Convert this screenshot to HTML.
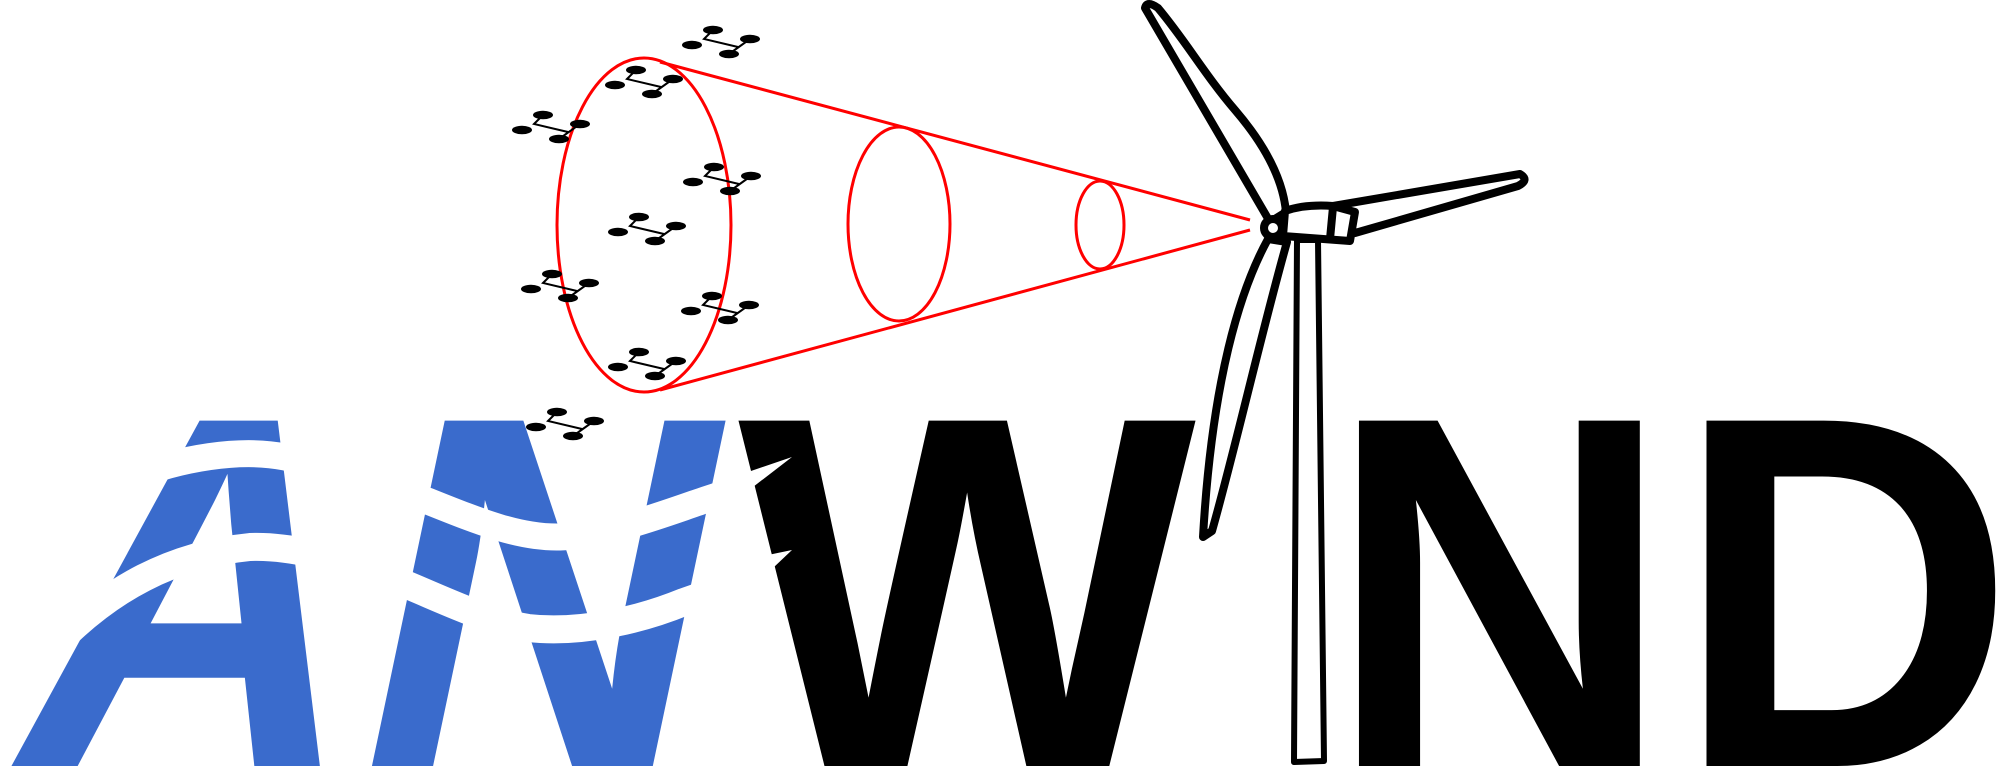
<!DOCTYPE html>
<html><head><meta charset="utf-8"><style>html,body{margin:0;padding:0;background:#fff;overflow:hidden}svg{display:block}</style></head>
<body>
<svg width="1999" height="766" viewBox="0 0 1999 766" xmlns="http://www.w3.org/2000/svg">
<defs>
<g id="dr">
<path d="M-8,-12 L-17,-3 L17,5 M29,-3 L8,12" stroke="#000" stroke-width="2" fill="none"/>
<ellipse cx="-8" cy="-12" rx="10" ry="4.3"/>
<ellipse cx="29" cy="-3" rx="10" ry="4.3"/>
<ellipse cx="-29" cy="3" rx="10" ry="4.3"/>
<ellipse cx="8" cy="12" rx="10" ry="4.3"/>
</g>
</defs>
<g transform="translate(0,766) skewX(-11.9)" fill="#3a6bcc" font-family="Liberation Sans, Arial, sans-serif" font-weight="bold" font-size="502">
<text x="0" y="0" textLength="332" lengthAdjust="spacingAndGlyphs">A</text>
<text x="340" y="0" textLength="345" lengthAdjust="spacingAndGlyphs">N</text>
</g>
<g fill="#000" font-family="Liberation Sans, Arial, sans-serif" font-weight="bold" font-size="502">
<text x="738" y="766" textLength="458" lengthAdjust="spacingAndGlyphs">W</text>
<text x="1327" y="766" textLength="345" lengthAdjust="spacingAndGlyphs">N</text>
<text x="1675" y="766" textLength="340" lengthAdjust="spacingAndGlyphs">D</text>
</g>
<g fill="none" stroke="#fff" stroke-linecap="butt">
<path d="M130,478 C180,458 240,448 285,457 C340,468 390,488 430,502 C480,522 520,538 560,537 C610,535 660,515 705,500 C718,496 728,492 738,489" stroke-width="27"/>
<path d="M60,640 C110,590 170,555 250,547 C300,545 360,565 412,587 C450,603 490,622 528,628 C580,634 640,620 684,602 C705,595 722,588 738,582" stroke-width="28"/>
</g>
<g fill="#fff">
<path d="M748,472 L792,457 L753,487 Z"/>
<path d="M768,555 L792,550 L773,568 Z"/>
</g>
<g fill="none" stroke="#f00" stroke-width="3">
<ellipse cx="644" cy="225" rx="87" ry="167"/>
<ellipse cx="899" cy="224" rx="51" ry="97"/>
<ellipse cx="1100" cy="225" rx="24" ry="44"/>
<line x1="660" y1="62" x2="1250" y2="220"/>
<line x1="660" y1="390" x2="1250" y2="230"/>
</g>
<use href="#dr" x="721" y="42"/>
<use href="#dr" x="644" y="82"/>
<use href="#dr" x="551" y="127"/>
<use href="#dr" x="722" y="179"/>
<use href="#dr" x="647" y="229"/>
<use href="#dr" x="560" y="286"/>
<use href="#dr" x="720" y="308"/>
<use href="#dr" x="647" y="364"/>
<use href="#dr" x="565" y="424"/>
<g stroke="#000" stroke-width="8" fill="#fff" stroke-linejoin="round">
<path d="M1297,240 L1318,240 L1324,761 L1294,762 Z" stroke-width="6"/>
<path d="M1270,222 L1145,8 Q1147,0 1158,8 C1185,40 1205,75 1235,110 C1265,145 1283,180 1286,212 Z"/>
<path d="M1268,239 C1240,290 1212,380 1203,537 L1212,531 C1235,450 1262,330 1287,242 Z"/>
<path d="M1333,206 L1520,174 Q1530,180 1518,186 L1355,233 Z"/>
<path d="M1285,211 Q1305,204 1333,206 L1355,212 L1350,241 L1283,236 Z"/>
<line x1="1333" y1="207" x2="1330" y2="239"/>
<ellipse cx="1273" cy="228" rx="9" ry="9"/>
</g>
</svg>
</body></html>
